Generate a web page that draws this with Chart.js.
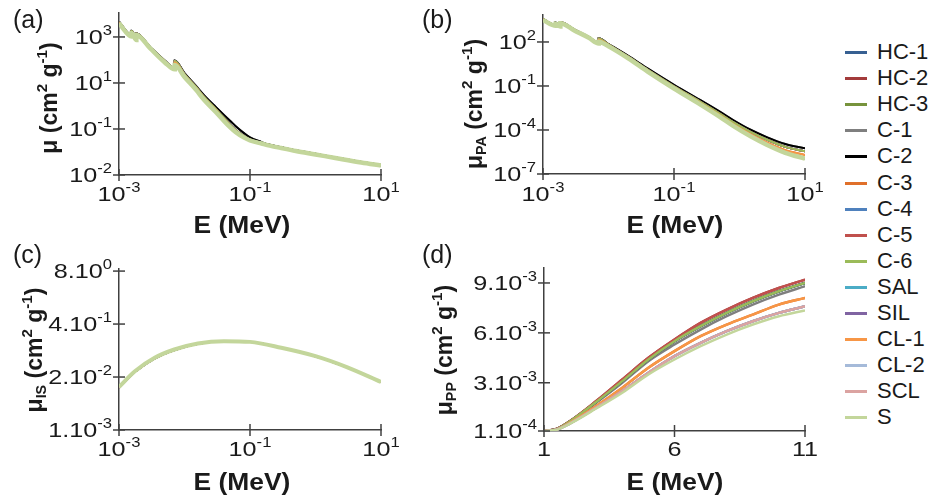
<!DOCTYPE html>
<html>
<head>
<meta charset="utf-8">
<script src="https://cdn.jsdelivr.net/npm/chart.js@4.4.0/dist/chart.umd.min.js"></script>
<style>
    body { margin: 0; background: #fff; width: 929px; height: 500px; overflow: hidden; position: relative; font-family: "Liberation Sans", Arial, sans-serif; }
    canvas { position: absolute; }
    #legend { position: absolute; left: 0; top: 0; }
    .row { position: absolute; left: 845px; height: 26px; white-space: nowrap; }
    .row .sw { position: absolute; left: 0; top: 12px; width: 22px; height: 3px; }
    .row .lb { position: absolute; left: 32px; top: 0; font-size: 22px; line-height: 26px; color: #1a1a1a; }
</style>
</head>
<body>
<canvas id="chartA" width="410" height="240" style="left:0;top:0"></canvas>
<canvas id="chartB" width="419" height="240" style="left:410px;top:0"></canvas>
<canvas id="chartC" width="410" height="260" style="left:0;top:240px"></canvas>
<canvas id="chartD" width="419" height="260" style="left:410px;top:240px"></canvas>
<div id="legend"></div>
<script>
// Series (soil samples) and their colours
const seriesNames = ['HC-1', 'HC-2', 'HC-3', 'C-1', 'C-2', 'C-3', 'C-4', 'C-5', 'C-6', 'SAL', 'SIL', 'CL-1', 'CL-2', 'SCL', 'S'];
const seriesColors = ['#376092', '#a33b3b', '#77933c', '#7f7f7f', '#000000', '#e0702a', '#4f81bd', '#c0504d', '#9bbb59', '#4bacc6', '#8064a2', '#f79646', '#a5bad9', '#dba3a1', '#c3d69b'];

// (a) total mass attenuation coefficient
const energyA = [0.001, 0.00156, 0.00156, 0.00184, 0.00184, 0.003, 0.005, 0.0071, 0.0071, 0.01, 0.015, 0.02, 0.03, 0.04, 0.05, 0.06, 0.08, 0.1, 0.15, 0.2, 0.3, 0.5, 1, 2, 5, 10];
const muHighA = [4600, 1200, 1850, 880, 1430, 360, 94, 46, 94, 27, 7.4, 2.9, 0.91, 0.41, 0.224, 0.135, 0.068, 0.043, 0.027, 0.0205, 0.016, 0.0118, 0.0083, 0.0058, 0.0037, 0.0027];
const muMidA = [4470, 1170, 1820, 860, 1410, 350, 91, 45, 91, 24.5, 6.7, 2.46, 0.74, 0.30, 0.149, 0.091, 0.050, 0.035, 0.0245, 0.020, 0.0158, 0.0117, 0.0082, 0.0058, 0.0037, 0.0027];
const muOrangeA = [4200, 1100, 1650, 800, 1300, 330, 85, 42, 78, 21.5, 5.9, 2.15, 0.65, 0.26, 0.133, 0.082, 0.046, 0.033, 0.024, 0.0195, 0.0153, 0.0114, 0.0080, 0.0057, 0.0036, 0.0027];
const muLowA = [3890, 1040, 1480, 740, 1230, 316, 78, 39, 60, 18.2, 5.0, 1.82, 0.55, 0.224, 0.117, 0.074, 0.043, 0.0316, 0.0234, 0.019, 0.0148, 0.011, 0.0078, 0.0055, 0.0035, 0.0026];

// (b) photoelectric absorption
const energyB = [0.001, 0.00156, 0.00156, 0.00184, 0.00184, 0.003, 0.005, 0.0071, 0.0071, 0.01, 0.02, 0.04, 0.1, 0.25, 0.5, 0.8, 1.5, 2.6, 5, 10];
const muHighB = [3700, 1410, 2090, 1320, 2240, 708, 224, 89, 178, 72, 11.2, 1.51, 0.120, 0.0112, 1.78e-3, 4.8e-4, 1.0e-4, 3.3e-5, 1.12e-5, 5.6e-6];
const muMidB = [3630, 1380, 2040, 1290, 2190, 692, 219, 87, 174, 67.6, 10, 1.26, 0.0955, 8.7e-3, 1.32e-3, 3.4e-4, 7.1e-5, 2.24e-5, 7.1e-6, 3.55e-6];
const muOrangeB = [3390, 1320, 1910, 1230, 2040, 661, 209, 83, 141, 59, 8.5, 1.07, 0.0794, 7.1e-3, 1.02e-3, 2.5e-4, 5.0e-5, 1.41e-5, 4.2e-6, 2.0e-6];
const muLowB = [3160, 1260, 1780, 1150, 1910, 617, 195, 78, 105, 50, 7.6, 0.93, 0.0676, 5.6e-3, 7.9e-4, 1.9e-4, 3.55e-5, 1.0e-5, 2.8e-6, 1.12e-6];

// (c) incoherent scattering
const energyC = [0.001, 0.00175, 0.0035, 0.007, 0.016, 0.04, 0.1, 0.3, 1, 3, 10];
const muMainC = [0.0111, 0.0268, 0.0575, 0.0925, 0.131, 0.151, 0.146, 0.1045, 0.065, 0.035, 0.0151];
const muLightC = [0.0114, 0.0276, 0.0592, 0.0948, 0.1334, 0.152, 0.146, 0.1045, 0.065, 0.035, 0.0151];

// (d) pair production
const energyD = [1.022, 1.5, 2, 3, 4, 5, 6, 7, 8, 9, 10, 11];
const muRedD = [0.0001, 0.00024, 0.0007, 0.0019, 0.0032, 0.0045, 0.0056, 0.0066, 0.0074, 0.0081, 0.0087, 0.0092];
const muGreenD = [0.0001, 0.00023, 0.00068, 0.00185, 0.0031, 0.0044, 0.0055, 0.0064, 0.0072, 0.0079, 0.0085, 0.0090];
const muGreyD = [0.0001, 0.00022, 0.00066, 0.0018, 0.0030, 0.0043, 0.0053, 0.0062, 0.0070, 0.0077, 0.0083, 0.0088];
const muOrangeD = [0.0001, 0.0002, 0.0006, 0.0016, 0.0027, 0.0039, 0.0049, 0.0058, 0.0065, 0.0071, 0.0077, 0.0081];
const muPaleD = [0.0001, 0.00019, 0.00056, 0.0015, 0.0025, 0.0036, 0.0046, 0.0054, 0.0061, 0.0067, 0.0072, 0.0076];
const muSandD = [0.0001, 0.00018, 0.00054, 0.00145, 0.0024, 0.0035, 0.0044, 0.0052, 0.0059, 0.0065, 0.0070, 0.00735];

// tick labels
const logTicksX = [0.001, 0.1, 10];
const logLabelsX = ['10^-3', '10^-1', '10^1'];
const ticksYA = [0.001, 0.1, 10, 1000];
const labelsYA = ['10^-2', '10^-1', '10^1', '10^3'];
const ticksYB = [1e-7, 1e-4, 0.1, 100];
const labelsYB = ['10^-7', '10^-4', '10^-1', '10^2'];
const ticksYC = [0.001, 0.02, 0.4, 8];
const labelsYC = ['1.10^-3', '2.10^-2', '4.10^-1', '8.10^0'];
const ticksXD = [1, 6, 11];
const labelsXD = ['1', '6', '11'];
const ticksYD = [0.0001, 0.003, 0.006, 0.009];
const labelsYD = ['1.10^-4', '3.10^-3', '6.10^-3', '9.10^-3'];

const AXIS = '#404040';
const TEXT = '#1a1a1a';
const FONT = '"Liberation Sans", Arial, sans-serif';

// draw text with ^sup and _sub parts
function drawRich(ctx, text, x, y, size, bold, align, stretch) {
    const parts = [];
    const re = /\^(-?\w+)|_(\w+)|([^^_]+)/g;
    let m;
    while ((m = re.exec(text))) {
        if (m[1] !== undefined) parts.push({ t: m[1], s: size * 0.66, dy: -size * 0.42 });
        else if (m[2] !== undefined) parts.push({ t: m[2], s: size * 0.62, dy: size * 0.16 });
        else parts.push({ t: m[3], s: size, dy: 0 });
    }
    const weight = bold ? 'bold ' : '';
    let w = 0;
    parts.forEach(p => {
        ctx.font = weight + p.s + 'px ' + FONT;
        p.w = ctx.measureText(p.t).width;
        w += p.w;
    });
    ctx.save();
    ctx.translate(x, y);
    ctx.scale(stretch || 1, 1);
    let cx = align === 'right' ? -w : align === 'center' ? -w / 2 : 0;
    ctx.textAlign = 'left';
    ctx.textBaseline = 'alphabetic';
    ctx.fillStyle = TEXT;
    parts.forEach(p => {
        ctx.font = weight + p.s + 'px ' + FONT;
        ctx.fillText(p.t, cx, p.dy);
        cx += p.w;
    });
    ctx.restore();
}

function makePanel(canvasId, p) {
    const datasets = seriesNames.map((name, i) => ({
        label: name,
        data: p.energies.map((e, k) => ({ x: e, y: p.groups[name][k] })),
        borderColor: seriesColors[i],
        borderWidth: name === 'S' ? p.sWidth : p.width,
        pointRadius: 0,
        cubicInterpolationMode: 'monotone',
        fill: false,
        order: seriesNames.length - i
    }));

    // tick marks, tick labels, axis titles and panel letter
    const decor = {
        id: 'decor',
        afterDraw(chart) {
            const ctx = chart.ctx;
            const xs = chart.scales.x, ys = chart.scales.y;
            const ax = chart.chartArea.left, ay = chart.chartArea.bottom;
            ctx.save();
            ctx.strokeStyle = AXIS;
            ctx.lineWidth = 1.5;
            p.xTicks.forEach((v, i) => {
                const px = xs.getPixelForValue(v);
                ctx.beginPath(); ctx.moveTo(px, ay - 6); ctx.lineTo(px, ay + 6); ctx.stroke();
                drawRich(ctx, p.xLabels[i], px, p.xLabelY - p.oy, 21, false, 'center', 1.2);
            });
            p.yTicks.forEach((v, i) => {
                const py = ys.getPixelForValue(v);
                ctx.beginPath(); ctx.moveTo(ax - 6, py); ctx.lineTo(ax + 6, py); ctx.stroke();
                drawRich(ctx, p.yLabels[i], ax - 7, py + 7, 21, false, 'right', 1.2);
            });
            drawRich(ctx, p.letter, p.letterPos[0] - p.ox, p.letterPos[1] - p.oy, 25, false, 'left');
            drawRich(ctx, 'E (MeV)', p.xTitlePos[0] - p.ox, p.xTitlePos[1] - p.oy, 24, true, 'center', 1.1);
            ctx.save();
            ctx.translate(p.yTitlePos[0] - p.ox, p.yTitlePos[1] - p.oy);
            ctx.rotate(-Math.PI / 2);
            drawRich(ctx, p.yTitle, 0, 0, 23, true, 'center');
            ctx.restore();
            ctx.restore();
        }
    };

    new Chart(document.getElementById(canvasId), {
        type: 'line',
        data: { datasets: datasets },
        options: {
            responsive: false,
            animation: false,
            events: [],
            layout: { padding: p.padding },
            plugins: { legend: { display: false }, tooltip: { enabled: false } },
            scales: {
                x: {
                    type: p.xType, min: p.xMin, max: p.xMax,
                    ticks: { display: false },
                    grid: { display: false, drawTicks: false },
                    border: { display: true, color: AXIS, width: 1.5 }
                },
                y: {
                    type: p.yType, min: p.yMin, max: p.yMax,
                    ticks: { display: false },
                    grid: { display: false, drawTicks: false },
                    border: { display: true, color: AXIS, width: 1.5 }
                }
            }
        },
        plugins: [decor]
    });
}

// which data array each series follows in each panel
function groupMap(table) {
    const out = {};
    Object.keys(table).forEach(key => table[key][1].forEach(n => { out[n] = table[key][0]; }));
    return out;
}

makePanel('chartA', {
    ox: 0, oy: 0,
    padding: { left: 119, right: 29, top: 13, bottom: 65 },
    energies: energyA,
    groups: groupMap({
        hi: [muHighA, ['C-1', 'C-2']],
        mid: [muMidA, ['HC-1', 'HC-2', 'HC-3', 'C-4', 'C-5', 'C-6']],
        org: [muOrangeA, ['C-3', 'CL-1']],
        low: [muLowA, ['SAL', 'SIL', 'CL-2', 'SCL', 'S']]
    }),
    width: 2, sWidth: 4.5,
    xType: 'logarithmic', xMin: 0.001, xMax: 10,
    yType: 'logarithmic', yMin: 0.001, yMax: 11000,
    xTicks: logTicksX, xLabels: logLabelsX, xLabelY: 201,
    yTicks: ticksYA, yLabels: labelsYA,
    letter: '(a)', letterPos: [13, 28],
    xTitlePos: [242, 233],
    yTitle: 'μ (cm^2 g^-1)', yTitlePos: [57, 98]
});

makePanel('chartB', {
    ox: 410, oy: 0,
    padding: { left: 133, right: 24, top: 15, bottom: 66 },
    energies: energyB,
    groups: groupMap({
        hi: [muHighB, ['C-1', 'C-2']],
        mid: [muMidB, ['HC-1', 'HC-2', 'HC-3', 'C-4', 'C-5', 'C-6']],
        org: [muOrangeB, ['C-3', 'CL-1']],
        low: [muLowB, ['SAL', 'SIL', 'CL-2', 'SCL', 'S']]
    }),
    width: 2, sWidth: 4.5,
    xType: 'logarithmic', xMin: 0.001, xMax: 10,
    yType: 'logarithmic', yMin: 1e-7, yMax: 6900,
    xTicks: logTicksX, xLabels: logLabelsX, xLabelY: 201,
    yTicks: ticksYB, yLabels: labelsYB,
    letter: '(b)', letterPos: [422, 28],
    xTitlePos: [675, 233],
    yTitle: 'μ_PA (cm^2 g^-1)', yTitlePos: [482, 104]
});

makePanel('chartC', {
    ox: 0, oy: 240,
    padding: { left: 119, right: 29, top: 29, bottom: 70 },
    energies: energyC,
    groups: groupMap({
        main: [muMainC, ['HC-1', 'HC-2', 'HC-3', 'C-1', 'C-2', 'C-3', 'C-4', 'C-5', 'C-6', 'SAL', 'SIL', 'CL-1', 'CL-2', 'SCL']],
        light: [muLightC, ['S']]
    }),
    width: 2, sWidth: 4,
    xType: 'logarithmic', xMin: 0.001, xMax: 10,
    yType: 'logarithmic', yMin: 0.001, yMax: 9,
    xTicks: logTicksX, xLabels: logLabelsX, xLabelY: 456,
    yTicks: ticksYC, yLabels: labelsYC,
    letter: '(c)', letterPos: [13, 263],
    xTitlePos: [242, 490],
    yTitle: 'μ_IS (cm^2 g^-1)', yTitlePos: [42, 350]
});

makePanel('chartD', {
    ox: 410, oy: 240,
    padding: { left: 134, right: 24, top: 28, bottom: 69 },
    energies: energyD,
    groups: groupMap({
        red: [muRedD, ['HC-2', 'C-5']],
        green: [muGreenD, ['HC-1', 'HC-3', 'C-2', 'C-4', 'C-6']],
        grey: [muGreyD, ['C-1']],
        org: [muOrangeD, ['C-3', 'CL-1']],
        pale: [muPaleD, ['SAL', 'SIL', 'CL-2', 'SCL']],
        sand: [muSandD, ['S']]
    }),
    width: 2.5, sWidth: 2.5,
    xType: 'linear', xMin: 1, xMax: 11,
    yType: 'linear', yMin: 0.0001, yMax: 0.0099,
    xTicks: ticksXD, xLabels: labelsXD, xLabelY: 456,
    yTicks: ticksYD, yLabels: labelsYD,
    letter: '(d)', letterPos: [422, 263],
    xTitlePos: [675, 490],
    yTitle: 'μ_PP (cm^2 g^-1)', yTitlePos: [452, 350]
});

// legend
const legend = document.getElementById('legend');
seriesNames.forEach((name, i) => {
    const row = document.createElement('div');
    row.className = 'row';
    row.style.top = (39 + i * 26.1) + 'px';
    row.innerHTML = `<span class="sw" style="background:${seriesColors[i]}"></span><span class="lb">${name}</span>`;
    legend.appendChild(row);
});
</script>
</body>
</html>
